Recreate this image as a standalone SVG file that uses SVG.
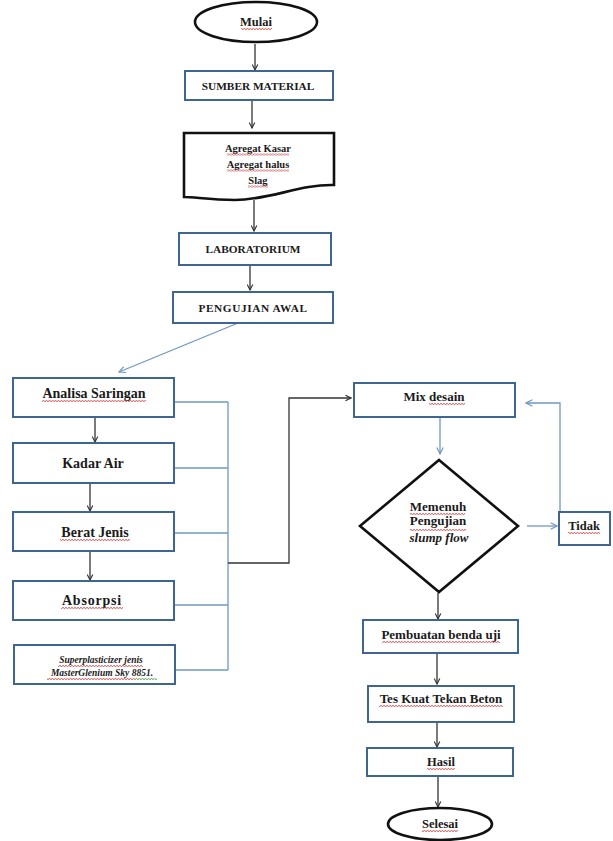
<svg xmlns="http://www.w3.org/2000/svg" width="613" height="841" viewBox="0 0 613 841">
  <style>
    .t { font-family: "Liberation Serif", "Times New Roman", serif; font-weight: bold; fill: #1a1a1a; text-anchor: middle; }
    .it { font-style: italic; }
    .box { fill: #ffffff; stroke: #3e6690; stroke-width: 2; }
    .blk { fill: #ffffff; stroke: #111111; stroke-width: 2.6; }
    .cb { fill: none; stroke: #7098c4; stroke-width: 1.3; }
    .ck { fill: none; stroke: #333333; stroke-width: 1.3; }
    .sq { fill: url(#squig); }
    .sqg { fill: url(#squigG); }
  </style>
  <defs>
    <marker id="ak" viewBox="0 0 10 10" refX="9" refY="5" markerWidth="7" markerHeight="7" orient="auto" markerUnits="userSpaceOnUse">
      <path d="M1,1 L9,5 L1,9" fill="none" stroke="#333333" stroke-width="1.6"/>
    </marker>
    <marker id="ab" viewBox="0 0 10 10" refX="9" refY="5" markerWidth="8" markerHeight="8" orient="auto" markerUnits="userSpaceOnUse">
      <path d="M1,1 L9,5 L1,9" fill="none" stroke="#7098c4" stroke-width="1.5"/>
    </marker>
    <!-- spell-check style wavy underline -->
    <pattern id="squig" patternUnits="userSpaceOnUse" width="3" height="2">
      <path d="M0,2 L1.5,0 L3,2" fill="none" stroke="#d03030" stroke-width="0.7"/>
    </pattern>
    <pattern id="squigG" patternUnits="userSpaceOnUse" width="3" height="2">
      <path d="M0,2 L1.5,0 L3,2" fill="none" stroke="#3a9a3a" stroke-width="0.7"/>
    </pattern>
  </defs>

  <rect width="613" height="841" fill="#ffffff"/>

  <!-- connectors -->
  <g id="connectors">
    <line class="ck" x1="255" y1="44" x2="255" y2="70" marker-end="url(#ak)"/>
    <line class="ck" x1="252" y1="101" x2="252" y2="128" marker-end="url(#ak)"/>
    <line class="ck" x1="254" y1="200" x2="254" y2="231" marker-end="url(#ak)"/>
    <line class="ck" x1="250" y1="266" x2="250" y2="290" marker-end="url(#ak)"/>
    <line class="cb" x1="238" y1="323" x2="119" y2="372" marker-end="url(#ab)"/>
    <line class="ck" x1="95" y1="418" x2="95" y2="442" marker-end="url(#ak)"/>
    <line class="ck" x1="90" y1="484" x2="90" y2="511" marker-end="url(#ak)"/>
    <line class="ck" x1="90" y1="552" x2="90" y2="580" marker-end="url(#ak)"/>
    <!-- collector bus from the test boxes -->
    <path class="cb" d="M175,402 H228 M175,468 H228 M175,533 H228 M175,605 H228 M175,670 H228 M228,402 V670"/>
    <path class="ck" d="M228,563 H289 V398 H351" marker-end="url(#ak)"/>
    <line class="cb" x1="440" y1="418" x2="440" y2="454" marker-end="url(#ab)"/>
    <line class="cb" x1="527" y1="526" x2="557" y2="526" marker-end="url(#ab)"/>
    <path class="cb" d="M560,511 V403 H526" marker-end="url(#ab)"/>
    <line class="ck" x1="438" y1="593" x2="438" y2="619" marker-end="url(#ak)"/>
    <line class="ck" x1="437" y1="654" x2="437" y2="684" marker-end="url(#ak)"/>
    <line class="ck" x1="437" y1="723" x2="437" y2="747" marker-end="url(#ak)"/>
    <line class="ck" x1="438" y1="777" x2="438" y2="807" marker-end="url(#ak)"/>
  </g>

  <g id="mulai">
    <ellipse class="blk" cx="256" cy="22" rx="61" ry="20"/>
    <text class="t" x="256" y="26" font-size="12.5">Mulai</text>
    <rect class="sq" x="241" y="28" width="31" height="2"/>
  </g>

  <g id="sumber-material">
    <rect class="box" x="185" y="71" width="148" height="29"/>
    <text class="t" x="258" y="89.5" font-size="11.3">SUMBER MATERIAL</text>
  </g>

  <g id="material">
    <path class="blk" d="M184,133 H334 V185 C300,184 270,200 235,200 C210,200 195,197 184,197 Z"/>
    <text class="t" x="258" y="151.5" font-size="10.5">Agregat Kasar</text>
    <text class="t" x="258" y="167.5" font-size="10.5">Agregat halus</text>
    <text class="t" x="258" y="183.5" font-size="10.5">Slag</text>
    <rect class="sq" x="227" y="153.5" width="62" height="2"/>
    <rect class="sq" x="227" y="169.5" width="62" height="2"/>
    <rect class="sq" x="248" y="185.5" width="20" height="2"/>
  </g>

  <g id="laboratorium">
    <rect class="box" x="179" y="233" width="152" height="32"/>
    <text class="t" x="253" y="253" font-size="11.3">LABORATORIUM</text>
  </g>

  <g id="pengujian-awal">
    <rect class="box" x="173" y="292" width="160" height="31"/>
    <text class="t" x="253" y="311.5" font-size="11.3" letter-spacing="0.6">PENGUJIAN AWAL</text>
  </g>

  <g id="analisa-saringan">
    <rect class="box" x="13" y="378" width="161" height="39"/>
    <text class="t" x="94" y="398" font-size="14">Analisa Saringan</text>
    <rect class="sq" x="42" y="400" width="104" height="2"/>
  </g>

  <g id="kadar-air">
    <rect class="box" x="13" y="443" width="161" height="40"/>
    <text class="t" x="93" y="468" font-size="14">Kadar Air</text>
  </g>

  <g id="berat-jenis">
    <rect class="box" x="13" y="512" width="161" height="39"/>
    <text class="t" x="95" y="537" font-size="14">Berat Jenis</text>
    <rect class="sq" x="60" y="539" width="70" height="2"/>
  </g>

  <g id="absorpsi">
    <rect class="box" x="13" y="581" width="161" height="39"/>
    <text class="t" x="92" y="605" font-size="14" letter-spacing="0.8">Absorpsi</text>
    <rect class="sq" x="61" y="607" width="62" height="2"/>
  </g>

  <g id="superplasticizer">
    <rect class="box" x="14" y="645" width="161" height="39"/>
    <text class="t it" x="101" y="663" font-size="9.5">Superplasticizer jenis</text>
    <text class="t it" x="102" y="676" font-size="9.5">MasterGlenium Sky 8851.</text>
    <rect class="sq" x="58" y="665" width="85" height="2"/>
    <rect class="sq" x="47" y="678" width="88" height="2"/>
    <rect class="sqg" x="135" y="678" width="22" height="2"/>
  </g>

  <g id="mix-desain">
    <rect class="box" x="354" y="383" width="161" height="34"/>
    <text class="t" x="434" y="401" font-size="13">Mix desain</text>
    <rect class="sq" x="429" y="403" width="36" height="2"/>
  </g>

  <g id="slump-check">
    <polygon class="blk" points="439,460 518,526 439,592 360,526"/>
    <text class="t" x="438" y="511" font-size="13">Memenuh</text>
    <text class="t" x="438" y="525" font-size="13">Pengujian</text>
    <text class="t it" x="439" y="542" font-size="13">slump flow</text>
    <rect class="sq" x="410" y="513" width="55" height="2"/>
    <rect class="sq" x="410" y="529" width="56" height="2"/>
  </g>

  <g id="tidak">
    <rect class="box" x="559" y="512" width="51" height="33" stroke-width="2.2"/>
    <text class="t" x="584" y="530" font-size="12.5">Tidak</text>
    <rect class="sq" x="568" y="532" width="32" height="2"/>
  </g>

  <g id="pembuatan-benda-uji">
    <rect class="box" x="363" y="620" width="155" height="33"/>
    <text class="t" x="441" y="639" font-size="13">Pembuatan benda uji</text>
    <rect class="sq" x="382" y="641" width="118" height="2"/>
  </g>

  <g id="tes-kuat-tekan">
    <rect class="box" x="368" y="686" width="146" height="36"/>
    <text class="t" x="441" y="703" font-size="13">Tes Kuat Tekan Beton</text>
    <rect class="sq" x="379" y="705" width="124" height="2"/>
  </g>

  <g id="hasil">
    <rect class="box" x="367" y="748" width="146" height="28"/>
    <text class="t" x="441" y="766" font-size="12.5">Hasil</text>
    <rect class="sq" x="427" y="768" width="28" height="2"/>
  </g>

  <g id="selesai">
    <ellipse class="blk" cx="440" cy="824" rx="52" ry="16"/>
    <text class="t" x="440" y="828" font-size="12.5">Selesai</text>
    <rect class="sq" x="422" y="830" width="36" height="2"/>
  </g>
</svg>
